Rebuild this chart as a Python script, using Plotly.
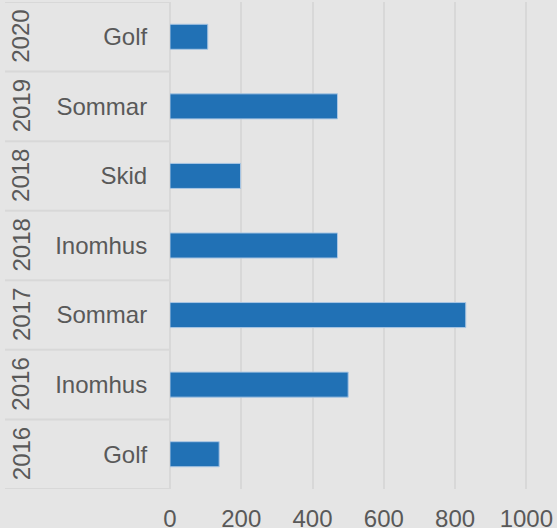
import plotly.graph_objects as go

years = ["2016", "2016", "2017", "2018", "2018", "2019", "2020"]
categories = ["Golf", "Inomhus", "Sommar", "Inomhus", "Skid", "Sommar", "Golf"]
values = [138, 500, 830, 470, 198, 470, 106]
x_ticks = [0, 200, 400, 600, 800, 1000]

keys = [f"{y} {c}" for y, c in zip(years, categories)]

FONT = "Liberation Sans, Arial, sans-serif"
TXT = "#595959"
BG = "#e5e5e5"
GRID = "#d8d8d8"
FS = 24

fig = go.Figure(go.Bar(
    x=values, y=keys, orientation="h", width=0.36,
    marker=dict(color="#2171b5", line=dict(color="#a9c6e3", width=1)),
))

shapes = []
for i in range(len(keys) + 1):
    shapes.append(dict(type="line", xref="paper", x0=(5 - 170) / 387, x1=0,
                       yref="y", y0=i - 0.5, y1=i - 0.5,
                       line=dict(color=GRID, width=2), layer="below"))

annotations = []
for k, y in zip(keys, years):
    annotations.append(dict(xref="paper", x=(21 - 170) / 387, xanchor="center",
                            yref="y", y=k, yanchor="middle",
                            text=y, textangle=-90, showarrow=False,
                            font=dict(family=FONT, size=FS, color=TXT)))

fig.update_layout(
    width=557, height=528,
    margin=dict(l=170, r=0, t=2, b=39, autoexpand=False),
    paper_bgcolor=BG, plot_bgcolor=BG,
    showlegend=False,
    font=dict(family=FONT, size=FS, color=TXT),
    shapes=shapes, annotations=annotations,
    xaxis=dict(range=[0, 1086], tickvals=x_ticks, showgrid=True, gridcolor=GRID,
               gridwidth=2, zeroline=True, zerolinecolor=GRID, zerolinewidth=2,
               ticks="outside", ticklen=0, ticklabelstandoff=8, automargin=False,
               tickfont=dict(size=FS, color=TXT), fixedrange=True),
    yaxis=dict(type="category", categoryorder="array", categoryarray=keys,
               tickvals=keys, ticktext=categories, range=[-0.5, len(keys) - 0.5],
               showgrid=False, ticks="outside", ticklen=0, ticklabelstandoff=17,
               automargin=False, fixedrange=True,
               tickfont=dict(size=FS, color=TXT), showline=False),
)

fig.write_html("out.html", config={"displayModeBar": False, "staticPlot": True},
               post_script="document.body.style.margin='0';document.body.style.overflow='hidden';")
